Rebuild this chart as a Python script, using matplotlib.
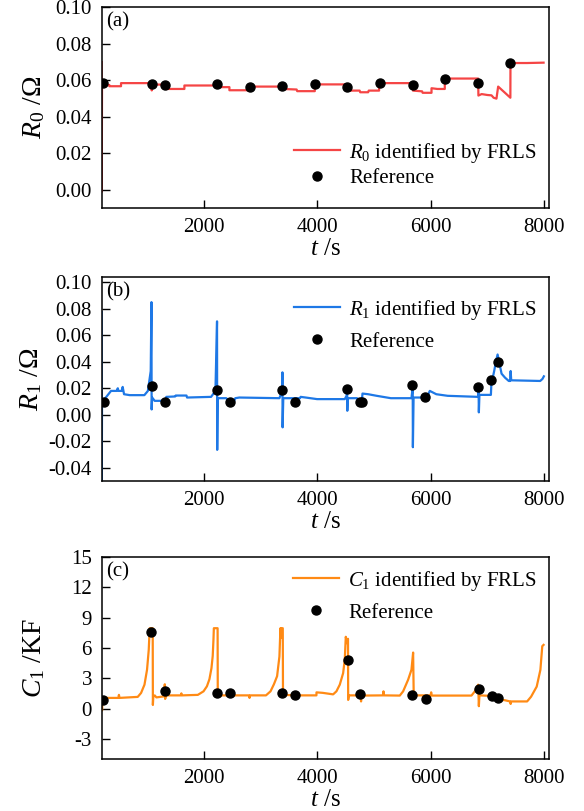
import matplotlib
matplotlib.use('Agg')
import matplotlib.pyplot as plt
from matplotlib.ticker import FormatStrFormatter

plt.rcParams['font.family'] = ['Liberation Serif', 'DejaVu Serif']
plt.rcParams['mathtext.fontset'] = 'custom'
plt.rcParams['mathtext.rm'] = 'Liberation Serif'
plt.rcParams['mathtext.it'] = 'Liberation Serif:italic'
plt.rcParams['axes.unicode_minus'] = False

# ---------------- data ----------------
# (a) R0 identified by FRLS
r0_t = [205, 207, 212, 341, 341, 547, 547, 1076, 1088, 1095, 1322, 1322, 1663, 1663,
        2221, 2239, 2456, 2456, 2808, 2808, 3396, 3400, 3640, 3650, 3960, 3960, 4518,
        4529, 4750, 4760, 4900, 4910, 5093, 5093, 5681, 5690, 5850, 5860, 6016, 6016,
        6120, 6250, 6250, 6838, 6842, 6900, 7000, 7073, 7110, 7160, 7190, 7300, 7405,
        7407, 7700, 7990]
r0_v = [0.0700, -0.0010, 0.0575, 0.0575, 0.0568, 0.0568, 0.0585, 0.0585, 0.0545, 0.0577,
        0.0577, 0.0553, 0.0553, 0.0572, 0.0572, 0.0563, 0.0563, 0.0546, 0.0546, 0.0566,
        0.0566, 0.0553, 0.0550, 0.0541, 0.0541, 0.0578, 0.0578, 0.0544, 0.0544, 0.0535,
        0.0535, 0.0544, 0.0544, 0.0585, 0.0585, 0.0544, 0.0540, 0.0532, 0.0532, 0.0557,
        0.0553, 0.0553, 0.0610, 0.0610, 0.0517, 0.0525, 0.0520, 0.0518, 0.0505, 0.0500,
        0.0566, 0.0535, 0.0505, 0.0695, 0.0695, 0.0697]
r0_ref_t = [230, 1085, 1320, 2240, 2810, 3390, 3960, 4530, 5100, 5685, 6250, 6835, 7405]
r0_ref_v = [0.0588, 0.0580, 0.0572, 0.0578, 0.0565, 0.0567, 0.0578, 0.0565, 0.0585,
            0.0572, 0.0610, 0.0585, 0.0695]

# (b) R1 identified by FRLS
r1_t = [205, 208, 212, 230, 260, 371, 470, 490, 500, 560, 576, 600, 700, 958, 1020, 1070,
        1083, 1086, 1095, 1140, 1200, 1330, 1345, 1500, 1510, 1700, 1710, 2133, 2210, 2238,
        2241, 2250, 2400, 2450, 2540, 2560, 2630, 3337, 3385, 3390, 3393, 3405, 3700, 3710,
        3800, 4000, 4488, 4520, 4530, 4533, 4540, 4700, 4790, 4800, 4900, 5050, 5300, 5663,
        5680, 5685, 5688, 5700, 5930, 5986, 6100, 6300, 6838, 6845, 6850, 6860, 7062, 7070,
        7120, 7150, 7180, 7250, 7311, 7377, 7400, 7410, 7420, 7930, 7970, 7995]
r1_v = [0.0775, -0.0500, 0.0100, 0.0080, 0.0120, 0.0180, 0.0180, 0.0200, 0.0180, 0.0180,
        0.0210, 0.0155, 0.0148, 0.0148, 0.0180, 0.0330, 0.0850, 0.0040, 0.0130, 0.0105,
        0.0105, 0.0105, 0.0135, 0.0138, 0.0145, 0.0145, 0.0130, 0.0135, 0.0180, 0.0705,
        -0.0265, 0.0125, 0.0125, 0.0105, 0.0105, 0.0125, 0.0130, 0.0125, 0.0180, 0.0320,
        -0.0095, 0.0125, 0.0125, 0.0135, 0.0130, 0.0118, 0.0118, 0.0143, 0.0205, 0.0030,
        0.0125, 0.0125, 0.0105, 0.0160, 0.0155, 0.0143, 0.0125, 0.0125, 0.0190, 0.0205,
        -0.0245, 0.0130, 0.0130, 0.0180, 0.0155, 0.0143, 0.0135, 0.0190, 0.0018, 0.0150,
        0.0150, 0.0230, 0.0330, 0.0400, 0.0455, 0.0310, 0.0280, 0.0255, 0.0255, 0.0330,
        0.0260, 0.0255, 0.0270, 0.0290]
r1_ref_t = [243, 1085, 1318, 2240, 2466, 3390, 3615, 4530, 4754, 4787, 5680, 5910, 6835,
            7062, 7180]
r1_ref_v = [0.0098, 0.0218, 0.0098, 0.0190, 0.0093, 0.0188, 0.0098, 0.0195, 0.0100,
            0.0100, 0.0223, 0.0133, 0.0210, 0.0260, 0.0400]

# (c) C1 identified by FRLS (kF)
c1_t = [207, 212, 220, 230, 500, 510, 520, 841, 900, 960, 1005, 1035, 1052, 1105, 1108,
        1115, 1140, 1170, 1300, 1318, 1324, 1340, 1600, 1610, 1620, 1900, 2000, 2060, 2104,
        2140, 2162, 2175, 2182, 2248, 2251, 2300, 2800, 2810, 2820, 3100, 3180, 3240, 3296,
        3337, 3355, 3365, 3372, 3396, 3400, 3420, 3600, 3989, 3990, 4100, 4283, 4341, 4400,
        4459, 4488, 4506, 4518, 4529, 4545, 4548, 4560, 4770, 4775, 4780, 5160, 5170, 5180,
        5457, 5516, 5604, 5663, 5692, 5703, 5720, 6000, 6010, 6020, 6720, 6779, 6838, 6850,
        6860, 7060, 7070, 7100, 7300, 7400, 7410, 7420, 7700, 7770, 7869, 7934, 7967, 7990]
c1_v = [0.9, -0.2, 0.9, 1.05, 1.05, 1.35, 1.05, 1.15, 1.54, 2.36, 3.84, 5.8, 7.95, 7.95,
        0.35, 1.15, 1.3, 1.1, 1.2, 2.4, 0.95, 1.3, 1.3, 1.5, 1.3, 1.35, 1.7, 2.2, 2.9,
        4.0, 5.2, 6.8, 7.95, 7.95, 1.4, 1.3, 1.3, 1.05, 1.3, 1.3, 1.7, 2.4, 3.2, 5.15,
        7.95, 7.0, 7.95, 7.95, 1.2, 1.35, 1.3, 1.3, 1.6, 1.55, 1.4, 1.7, 2.36, 3.5, 4.82,
        7.1, 6.8, 6.46, 6.9, 0.85, 1.3, 1.3, 0.7, 1.28, 1.3, 1.7, 1.3, 1.28, 1.7, 2.85,
        3.84, 5.54, 1.15, 1.3, 1.3, 1.6, 1.28, 1.28, 1.7, 2.36, 0.23, 1.3, 1.25, 1.0, 0.9,
        0.83, 0.7, 0.45, 0.7, 0.7, 1.17, 2.17, 3.83, 6.17, 6.3]
c1_ref_t = [232, 1082, 1316, 2240, 2460, 3390, 3617, 4537, 4760, 5680, 5917, 6844, 7074, 7185]
c1_ref_v = [0.85, 7.57, 1.77, 1.57, 1.57, 1.57, 1.35, 4.77, 1.45, 1.35, 0.9, 1.95, 1.27, 1.07]

xticks = [2000, 4000, 6000, 8000]
xlim = (206, 8090)

# ---------------- figure ----------------
fig = plt.figure(figsize=(5.84, 8.11), dpi=100)
L, W = 0.1741, 0.7664
ax_a = fig.add_axes([L, 0.7432, W, 0.2478])
ax_b = fig.add_axes([L, 0.4069, W, 0.2516])
ax_c = fig.add_axes([L, 0.0641, W, 0.2491])


def style(ax):
    ax.tick_params(direction='in', length=6, width=1.0, labelsize=15, pad=7,
                   top=False, right=False)
    for s in ax.spines.values():
        s.set_linewidth(1.1)
    ax.set_xlim(*xlim)
    ax.set_xticks(xticks)
    ax.set_xlabel(r'$t$ /s', fontsize=18, labelpad=1)


leg_kw = dict(frameon=False, fontsize=15, handlelength=2.2, handletextpad=0.45)

# (a)
ax_a.plot(r0_t, r0_v, color='#F54545', lw=1.6,
          label=r'$R_0$ identified by FRLS')
ax_a.plot(r0_ref_t, r0_ref_v, 'o', color='black', ms=6.5, label='Reference')
style(ax_a)
ax_a.set_ylim(-0.01, 0.10)
ax_a.set_yticks([0.00, 0.02, 0.04, 0.06, 0.08, 0.10])
ax_a.yaxis.set_major_formatter(FormatStrFormatter('%.2f'))
ax_a.set_ylabel(r'$R_0$ /Ω', fontsize=20, labelpad=6)
ax_a.text(0.01, 0.975, '(a)', transform=ax_a.transAxes, fontsize=15, va='top', ha='left')
ax_a.legend(loc='upper right', bbox_to_anchor=(1.015, 0.43), labelspacing=0.2, **leg_kw)

# (b)
ax_b.plot(r1_t, r1_v, color='#1E78E6', lw=1.6,
          label=r'$R_1$ identified by FRLS')
ax_b.plot(r1_ref_t, r1_ref_v, 'o', color='black', ms=6.5, label='Reference')
style(ax_b)
ax_b.set_ylim(-0.050, 0.104)
ax_b.set_yticks([-0.04, -0.02, 0.00, 0.02, 0.04, 0.06, 0.08, 0.10])
ax_b.yaxis.set_major_formatter(FormatStrFormatter('%.2f'))
ax_b.set_ylabel(r'$R_{\mathit{1}}$ /Ω', fontsize=20, labelpad=3)
ax_b.text(0.01, 0.975, '(b)', transform=ax_b.transAxes, fontsize=15, va='top', ha='left')
ax_b.legend(loc='upper right', bbox_to_anchor=(1.015, 0.99), labelspacing=0.5, **leg_kw)

# (c)
ax_c.plot(c1_t, c1_v, color='#FF8A14', lw=1.6,
          label=r'$C_1$ identified by FRLS')
ax_c.plot(c1_ref_t, c1_ref_v, 'o', color='black', ms=6.5, label='Reference')
style(ax_c)
ax_c.set_ylim(-5, 15)
ax_c.set_yticks([-3, 0, 3, 6, 9, 12, 15])
ax_c.set_ylabel(r'$C_1$ /KF', fontsize=20, labelpad=17)
ax_c.text(0.01, 0.975, '(c)', transform=ax_c.transAxes, fontsize=15, va='top', ha='left')
ax_c.legend(loc='upper right', bbox_to_anchor=(1.015, 1.035), labelspacing=0.5, **leg_kw)

fig.savefig('out.png', dpi=100)
